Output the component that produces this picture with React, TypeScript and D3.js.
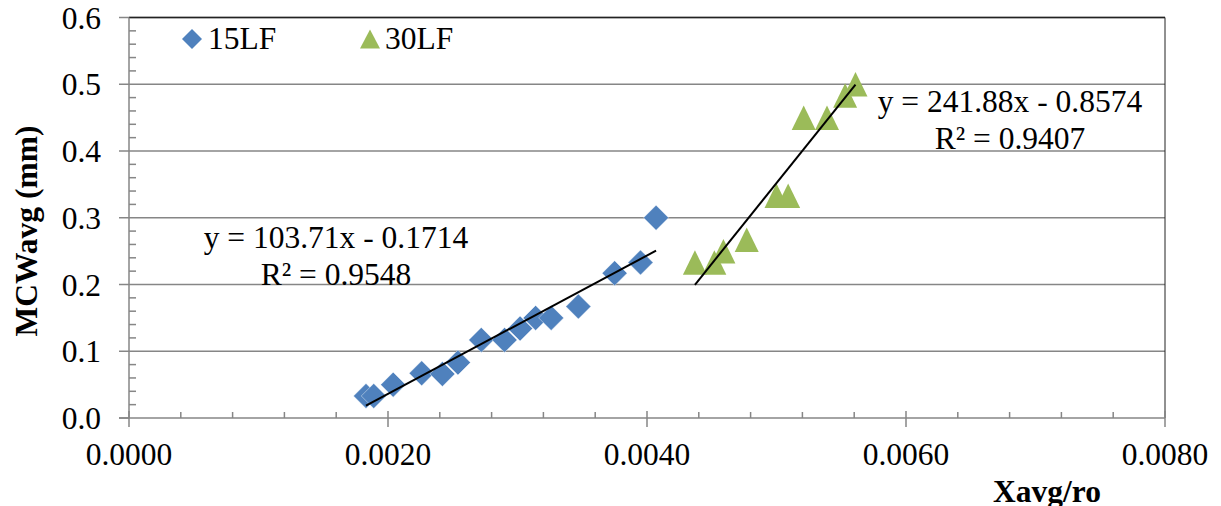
import React from 'react';
import * as d3 from 'd3';

// Axis ticks
const xTicks = [0, 0.002, 0.004, 0.006, 0.008];
const yTicks = [0, 0.1, 0.2, 0.3, 0.4, 0.5, 0.6];

// 15LF series
const lf15X = [0.00183, 0.00189, 0.00204, 0.00226, 0.00242, 0.00254, 0.00272, 0.0029, 0.00302, 0.00314, 0.00326, 0.00347, 0.00375, 0.00395, 0.00407];
const lf15Y = [0.033, 0.033, 0.05, 0.067, 0.066, 0.083, 0.117, 0.117, 0.134, 0.15, 0.15, 0.167, 0.217, 0.233, 0.3];

// 30LF series
const lf30X = [0.00437, 0.00452, 0.00459, 0.00477, 0.005, 0.00509, 0.00521, 0.00539, 0.00553, 0.00561];
const lf30Y = [0.233, 0.233, 0.25, 0.267, 0.333, 0.333, 0.45, 0.45, 0.483, 0.5];

// Linear trendlines
const fitSlopes = [103.71, 241.88];
const fitIntercepts = [-0.1714, -0.8574];
const fitR2 = [0.9548, 0.9407];

const W = 1221;
const H = 506;
const left = 129;
const right = 1165;
const top = 17.5;
const bottom = 418;

const gray = '#868686';
const blue = '#4F81BD';
const green = '#9BBB59';
const font = '"Liberation Serif", "Times New Roman", serif';
const fs = 31.5;

const diamond = (r: number) => `M0,${-r}L${r},0L0,${r}L${-r},0Z`;
const triangle = (w: number, h: number) => `M0,${-h / 2}L${w / 2},${h / 2}L${-w / 2},${h / 2}Z`;

function fmtSigned(v: number) {
  return v < 0 ? ` - ${Math.abs(v)}` : ` + ${v}`;
}

export default function App() {
  const x = d3.scaleLinear().domain([0, 0.008]).range([left, right]);
  const y = d3.scaleLinear().domain([0, 0.6]).range([bottom, top]);

  const xMinor = d3.range(0, 0.008 + 1e-9, 0.0004).filter((_, i) => i % 5 !== 0);
  const yMinor = d3.range(0, 0.6 + 1e-9, 0.02).filter((_, i) => i % 5 !== 0);

  const series = [
    { xs: lf15X, ys: lf15Y },
    { xs: lf30X, ys: lf30Y },
  ];

  const line = d3
    .line<[number, number]>()
    .x((d) => x(d[0]))
    .y((d) => y(d[1]));

  const fits = series.map((s, i) => {
    const [x0, x1] = d3.extent(s.xs) as [number, number];
    const f = (v: number) => fitSlopes[i] * v + fitIntercepts[i];
    return line([
      [x0, f(x0)],
      [x1, f(x1)],
    ]);
  });

  const eqPos = [
    { cx: 336, by: 248 },
    { cx: 1010, by: 112 },
  ];

  return (
    <svg
      width={W}
      height={H}
      style={{ position: 'absolute', left: 0, top: 0, background: '#fff' }}
      fontFamily={font}
    >
      {/* gridlines */}
      {yTicks.slice(1).map((t) => (
        <line key={'g' + t} x1={left} x2={right} y1={y(t)} y2={y(t)} stroke={gray} strokeWidth={1.5} />
      ))}
      {/* plot border top/right */}
      <line x1={left} x2={right} y1={top} y2={top} stroke="#222" strokeWidth={1.5} />
      <line x1={right} x2={right} y1={top} y2={bottom} stroke="#222" strokeWidth={1} />

      {/* y axis */}
      <line x1={left} x2={left} y1={top} y2={bottom} stroke={gray} strokeWidth={1.5} />
      {yTicks.map((t) => (
        <line key={'yt' + t} x1={left - 10} x2={left} y1={y(t)} y2={y(t)} stroke={gray} strokeWidth={1.5} />
      ))}
      {yMinor.map((t) => (
        <line key={'ym' + t} x1={left} x2={left + 7} y1={y(t)} y2={y(t)} stroke={gray} strokeWidth={1.5} />
      ))}
      {yTicks.map((t) => (
        <text key={'yl' + t} x={101} y={y(t) + 11} textAnchor="end" fontSize={fs} fill="#000">
          {t.toFixed(1)}
        </text>
      ))}

      {/* x axis */}
      <line x1={left - 10} x2={right} y1={bottom} y2={bottom} stroke={gray} strokeWidth={1.5} />
      {xTicks.map((t) => (
        <line key={'xt' + t} x1={x(t)} x2={x(t)} y1={bottom - 7} y2={bottom + 9} stroke={gray} strokeWidth={1.5} />
      ))}
      {xMinor.map((t) => (
        <line key={'xm' + t} x1={x(t)} x2={x(t)} y1={bottom - 6} y2={bottom} stroke={gray} strokeWidth={1.5} />
      ))}
      {xTicks.map((t) => (
        <text key={'xl' + t} x={x(t)} y={465} textAnchor="middle" fontSize={fs} fill="#000">
          {t.toFixed(4)}
        </text>
      ))}

      {/* axis titles */}
      <text
        transform={`translate(37,231) rotate(-90)`}
        textAnchor="middle"
        fontSize={fs}
        fontWeight="bold"
        fill="#000"
      >
        MCWavg (mm)
      </text>
      <text x={1047} y={502} textAnchor="middle" fontSize={fs} fontWeight="bold" fill="#000">
        Xavg/ro
      </text>

      {/* markers */}
      {lf15X.map((v, i) => (
        <path
          key={'d' + i}
          d={diamond(12.5)}
          transform={`translate(${x(v)},${y(lf15Y[i])})`}
          fill={blue}
          stroke="#fff"
          strokeOpacity={0.5}
          strokeWidth={0.8}
        />
      ))}
      {lf30X.map((v, i) => (
        <path key={'t' + i} d={triangle(24, 24.5)} transform={`translate(${x(v)},${y(lf30Y[i])})`} fill={green} />
      ))}

      {/* trendlines */}
      {fits.map((d, i) => (
        <path key={'f' + i} d={d || ''} fill="none" stroke="#000" strokeWidth={2} />
      ))}

      {/* trendline equations */}
      {eqPos.map((p, i) => (
        <g key={'e' + i} fontSize={fs} fill="#000" textAnchor="middle">
          <text x={p.cx} y={p.by}>
            {`y = ${fitSlopes[i]}x${fmtSigned(fitIntercepts[i])}`}
          </text>
          <text x={p.cx} y={p.by + 37}>
            {`R² = ${fitR2[i].toFixed(4)}`}
          </text>
        </g>
      ))}

      {/* legend */}
      <path d={diamond(10)} transform="translate(192,39)" fill={blue} />
      <text x={208} y={49} fontSize={fs} fill="#000">
        15LF
      </text>
      <path d={triangle(20, 19)} transform="translate(370,39)" fill={green} />
      <text x={385} y={49} fontSize={fs} fill="#000">
        30LF
      </text>
    </svg>
  );
}
